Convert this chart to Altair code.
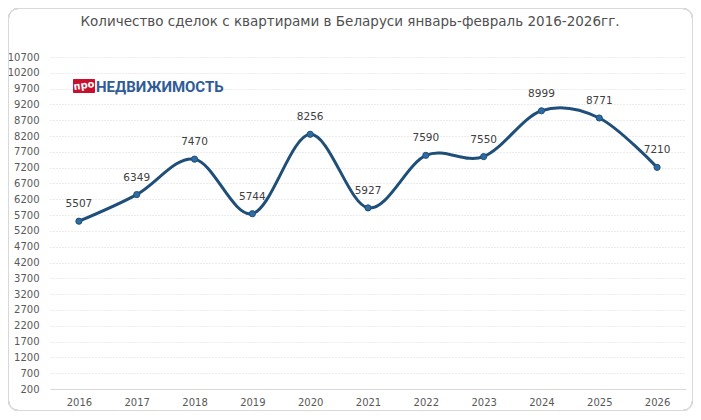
import altair as alt
import pandas as pd

years = ["2016", "2017", "2018", "2019", "2020", "2021", "2022", "2023", "2024", "2025", "2026"]
deals = [5507, 6349, 7470, 5744, 8256, 5927, 7590, 7550, 8999, 8771, 7210]
y_ticks = list(range(200, 10701, 500))
title_text = "Количество сделок с квартирами в Беларуси январь-февраль  2016-2026гг."
logo_badge = "про"
logo_word = "НЕДВИЖИМОСТЬ"

df = pd.DataFrame({"year": years, "deals": deals})

FONT = "DejaVu Sans"
W, H = 636, 332

x_enc = alt.X("year:N", sort=years,
              scale=alt.Scale(type="point", padding=0.5),
              axis=alt.Axis(title=None, labelAngle=0, ticks=False, domain=True,
                            domainColor="#d9d9d9", labelColor="#595959",
                            labelFont=FONT, labelFontSize=10, labelPadding=8,
                            grid=False))
y_enc = alt.Y("deals:Q",
              scale=alt.Scale(domain=[200, 10700], nice=False, zero=False),
              axis=alt.Axis(title=None, values=y_ticks, format="d", ticks=False, domain=False,
                            labelColor="#595959", labelFont=FONT, labelFontSize=10,
                            labelPadding=11, grid=True, gridColor="#d9d9d9",
                            gridDash=[1, 2], gridWidth=1))

base = alt.Chart(df)

line = base.mark_line(interpolate="cardinal", color="#1F4E79", strokeWidth=3).encode(x=x_enc, y=y_enc)
pts = base.mark_point(filled=True, size=38, fill="#2E6DA4", stroke="#1F4E79",
                      strokeWidth=1, opacity=1).encode(x=x_enc, y=y_enc)
labels = base.mark_text(dy=-17, font=FONT, fontSize=10.5, color="#404040").encode(
    x=x_enc, y=y_enc, text="deals:Q")

border = alt.Chart(df).mark_rect(fill=None, stroke="#d9d9d9", strokeWidth=1,
                                 cornerRadius=10, clip=False).encode(
    x=alt.value(-41.5), x2=alt.value(642.5), y=alt.value(-48.5), y2=alt.value(353.5))

title = alt.Chart(pd.DataFrame({"t": [title_text]})).mark_text(
    font=FONT, fontSize=13.5, color="#505050", align="center", baseline="middle").encode(
    x=alt.value(300), y=alt.value(-35), text="t:N")

badge = alt.Chart(pd.DataFrame({"t": [logo_badge]})).mark_rect(
    fill="#C8102E", cornerRadius=1).encode(
    x=alt.value(23), x2=alt.value(45), y=alt.value(22), y2=alt.value(36))
badge_t = alt.Chart(pd.DataFrame({"t": [logo_badge]})).mark_text(
    font=FONT, fontSize=10, fontWeight="bold", color="white", angle=352,
    align="center", baseline="middle").encode(x=alt.value(34), y=alt.value(28.5), text="t:N")
word = alt.Chart(pd.DataFrame({"t": [logo_word]})).mark_text(
    font="Roboto", fontSize=15, fontWeight="bold", color="#2F5C97",
    align="left", baseline="middle").encode(x=alt.value(46), y=alt.value(29.5), text="t:N")

chart = alt.layer(border, title, line, pts, labels, badge, badge_t, word).properties(
    width=W, height=H,
    autosize=alt.AutoSizeParams(type="none"),
    padding={"left": 42, "top": 49, "right": 7, "bottom": 22},
    background="white",
).configure_view(stroke=None)

chart.save("out.html", embed_options={"renderer": "svg", "actions": False})
